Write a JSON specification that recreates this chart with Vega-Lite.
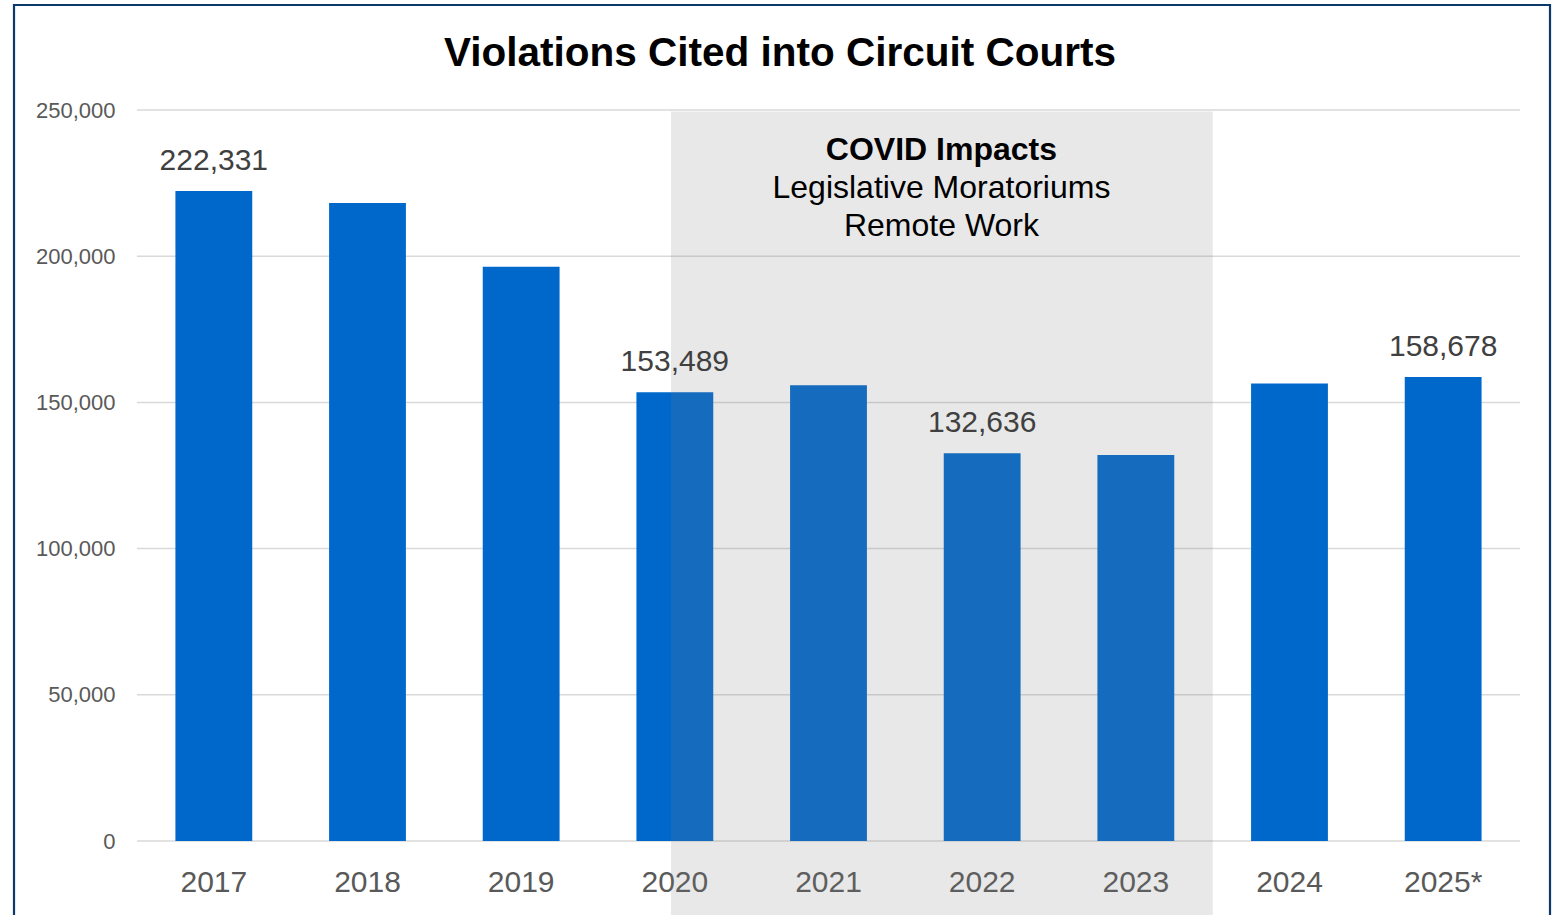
{
  "$schema": "https://vega.github.io/schema/vega-lite/v6.json",
  "autosize": {"type": "none"},
  "padding": {"left": 14, "top": 5, "right": 8, "bottom": 0},
  "width": 1536,
  "height": 920,
  "background": "white",
  "config": {
    "view": {"stroke": "#0B3A6A", "strokeWidth": 2.2},
    "font": "Liberation Sans",
    "axisY": {"title": null, "labelExpr": "format(datum.value, ',')", "grid": false, "domain": false, "ticks": false, "labelFontSize": 22, "labelColor": "#595959", "labelPadding": 0, "offset": -101, "labelFont": "Liberation Sans"}
  },
  "title": {
    "text": "Violations Cited into Circuit Courts",
    "font": "Liberation Sans",
    "fontSize": 40.5,
    "fontWeight": "bold",
    "color": "#000000",
    "anchor": "middle",
    "frame": "group",
    "offset": -69,
    "dx": -2
  },
  "datasets": {
    "bars": [
      {"year": "2017", "v": 222331, "show": true},
      {"year": "2018", "v": 218200, "show": false},
      {"year": "2019", "v": 196400, "show": false},
      {"year": "2020", "v": 153489, "show": true},
      {"year": "2021", "v": 155900, "show": false},
      {"year": "2022", "v": 132636, "show": true},
      {"year": "2023", "v": 132000, "show": false},
      {"year": "2024", "v": 156500, "show": false},
      {"year": "2025*", "v": 158678, "show": true}
    ],
    "grid": [
      {"v": 0}, {"v": 50000}, {"v": 100000}, {"v": 150000}, {"v": 200000}, {"v": 250000}
    ],
    "covid": [
      {"start": 3.475, "end": 7.0, "v": 249500, "v2": -27000}
    ],
    "notes": [
      {"text": "COVID Impacts", "pos": 5.235, "v": 236300, "bold": true},
      {"text": "Legislative Moratoriums", "pos": 5.235, "v": 223300, "bold": false},
      {"text": "Remote Work", "pos": 5.235, "v": 210300, "bold": false}
    ]
  },
  "resolve": {"scale": {"x": "independent"}},
  "layer": [
    {
      "data": {"name": "grid"},
      "mark": {"type": "rule", "color": "#D9D9D9", "strokeWidth": 1.5},
      "encoding": {
        "x": {"datum": 0, "type": "quantitative", "scale": {"domain": [0, 9], "range": [123, 1506], "nice": false, "zero": false}, "axis": null},
        "x2": {"datum": 9},
        "y": {
          "field": "v", "type": "quantitative",
          "scale": {"domain": [0, 250000], "range": [836, 105], "nice": false, "zero": false},
          "axis": {"title": null, "values": [0, 50000, 100000, 150000, 200000, 250000]}
        }
      }
    },
    {
      "data": {"name": "bars"},
      "mark": {"type": "bar", "color": "#0068CB"},
      "encoding": {
        "x": {
          "field": "year", "type": "ordinal", "sort": null,
          "scale": {"range": [123, 1506], "paddingInner": 0.5, "paddingOuter": 0.25},
          "axis": {"title": null, "labelAngle": 0, "domain": false, "ticks": false, "labelFontSize": 30, "labelColor": "#595959", "labelPadding": 0, "labelBaseline": "middle", "offset": -43, "labelFont": "Liberation Sans"}
        },
        "y": {"field": "v", "type": "quantitative", "axis": {"title": null, "values": [0, 50000, 100000, 150000, 200000, 250000]}}
      }
    },
    {
      "data": {"name": "covid"},
      "mark": {"type": "rect", "color": "#7A7A7A", "opacity": 0.1725},
      "encoding": {
        "x": {"field": "start", "type": "quantitative", "scale": {"domain": [0, 9], "range": [123, 1506], "nice": false, "zero": false}, "axis": null},
        "x2": {"field": "end"},
        "y": {"field": "v", "type": "quantitative", "axis": {"title": null, "values": [0, 50000, 100000, 150000, 200000, 250000]}},
        "y2": {"field": "v2"}
      }
    },
    {
      "data": {"name": "bars"},
      "transform": [{"filter": "datum.show"}],
      "mark": {"type": "text", "fontSize": 30, "color": "#404040", "baseline": "alphabetic", "align": "center", "dy": -21, "font": "Liberation Sans"},
      "encoding": {
        "x": {"field": "year", "type": "ordinal", "sort": null, "scale": {"domain": ["2017", "2018", "2019", "2020", "2021", "2022", "2023", "2024", "2025*"], "range": [123, 1506], "paddingInner": 0.5, "paddingOuter": 0.25}, "axis": null},
        "y": {"field": "v", "type": "quantitative", "axis": {"title": null, "values": [0, 50000, 100000, 150000, 200000, 250000]}},
        "text": {"field": "v", "type": "quantitative", "format": ","}
      }
    },
    {
      "data": {"name": "notes"},
      "transform": [{"filter": "datum.bold"}],
      "mark": {"type": "text", "fontSize": 32, "fontWeight": "bold", "color": "#000000", "baseline": "middle", "align": "center", "font": "Liberation Sans"},
      "encoding": {
        "x": {"field": "pos", "type": "quantitative", "scale": {"domain": [0, 9], "range": [123, 1506], "nice": false, "zero": false}, "axis": null},
        "y": {"field": "v", "type": "quantitative", "axis": {"title": null, "values": [0, 50000, 100000, 150000, 200000, 250000]}},
        "text": {"field": "text"}
      }
    },
    {
      "data": {"name": "notes"},
      "transform": [{"filter": "!datum.bold"}],
      "mark": {"type": "text", "fontSize": 32, "color": "#000000", "baseline": "middle", "align": "center", "font": "Liberation Sans"},
      "encoding": {
        "x": {"field": "pos", "type": "quantitative", "scale": {"domain": [0, 9], "range": [123, 1506], "nice": false, "zero": false}, "axis": null},
        "y": {"field": "v", "type": "quantitative", "axis": {"title": null, "values": [0, 50000, 100000, 150000, 200000, 250000]}},
        "text": {"field": "text"}
      }
    }
  ]
}
